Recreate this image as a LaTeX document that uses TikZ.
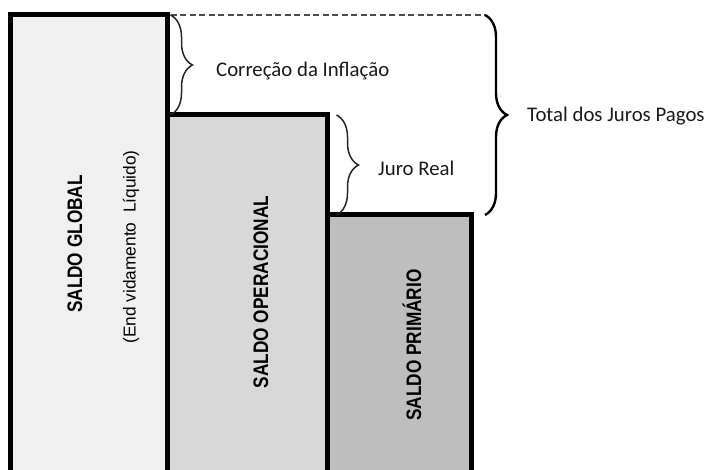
\documentclass[tikz,border=0pt]{standalone}
\usepackage{fontspec}
\setmainfont{Carlito}
\newfontfamily\narrowfont[FakeStretch=0.82]{Liberation Sans}
\newfontfamily\arialfont{Liberation Sans}
\usetikzlibrary{decorations.pathreplacing}
\definecolor{gA}{HTML}{F0F0F0}
\definecolor{gB}{HTML}{D8D8D8}
\definecolor{gC}{HTML}{BEBEBE}
\definecolor{txt}{HTML}{1A1A1A}
\begin{document}
\begin{tikzpicture}[x=1pt,y=-1pt,
  bar/.style={draw=black, line width=5pt, anchor=north west, inner sep=0pt, outer sep=0pt},
  vlabel/.style={rotate=90, font=\narrowfont\bfseries\fontsize{21}{24}\selectfont, text=black},
  brlabel/.style={font=\fontsize{20.8}{24}\selectfont, text=txt, anchor=west, inner sep=0pt},
  brc/.style={decorate, decoration={brace, amplitude=22pt}, line width=1.5pt, draw=black!85}]
\useasboundingbox (0,0) rectangle (713,470);
\begin{scope}
\clip (0,0) rectangle (713,470);
\node[bar, fill=gA, minimum width=157, minimum height=470] (glob) at (10.5,15) {};
\node[bar, fill=gB, minimum width=160, minimum height=400] (oper) at (167.5,115) {};
\node[bar, fill=gC, minimum width=144, minimum height=300] (prim) at (327.5,215) {};
\end{scope}
\node[vlabel] (tg) at (75,244) {SALDO GLOBAL};
\node[rotate=90, font=\arialfont\fontsize{17.3}{20}\selectfont, text=black] (te) at (131,247) {(End vidamento\ \ Líquido)};
\node[vlabel] (to) at (261,292) {SALDO OPERACIONAL};
\node[vlabel] (tp) at (412,345) {SALDO PRIMÁRIO};
% dashed top line
\coordinate (dtop) at (485,15);
\draw[draw=black!70, line width=2.2pt, dash pattern=on 6pt off 3.5pt] ([xshift=3pt]glob.north east) -- (dtop);
% braces
\coordinate (b1s) at ([xshift=3pt]glob.north east);
\coordinate (b1e) at ([xshift=3pt]glob.north east |- oper.north);
\draw[brc] (b1s) -- (b1e);
\coordinate (b2s) at ([xshift=9pt]oper.north east);
\coordinate (b2e) at ([xshift=9pt]oper.north east |- prim.north);
\draw[brc] (b2s) -- (b2e);
\coordinate (b3e) at (dtop |- prim.north);
\draw[brc, line width=2.4pt, draw=black] (dtop) -- (b3e);
% labels
\node[brlabel] (l1) at (216,71) {Correção da Inflação};
\node[brlabel] (l2) at (378,168) {Juro Real};
\node[brlabel] (l3) at (527,116) {Total dos Juros Pagos};
\end{tikzpicture}
\end{document}
